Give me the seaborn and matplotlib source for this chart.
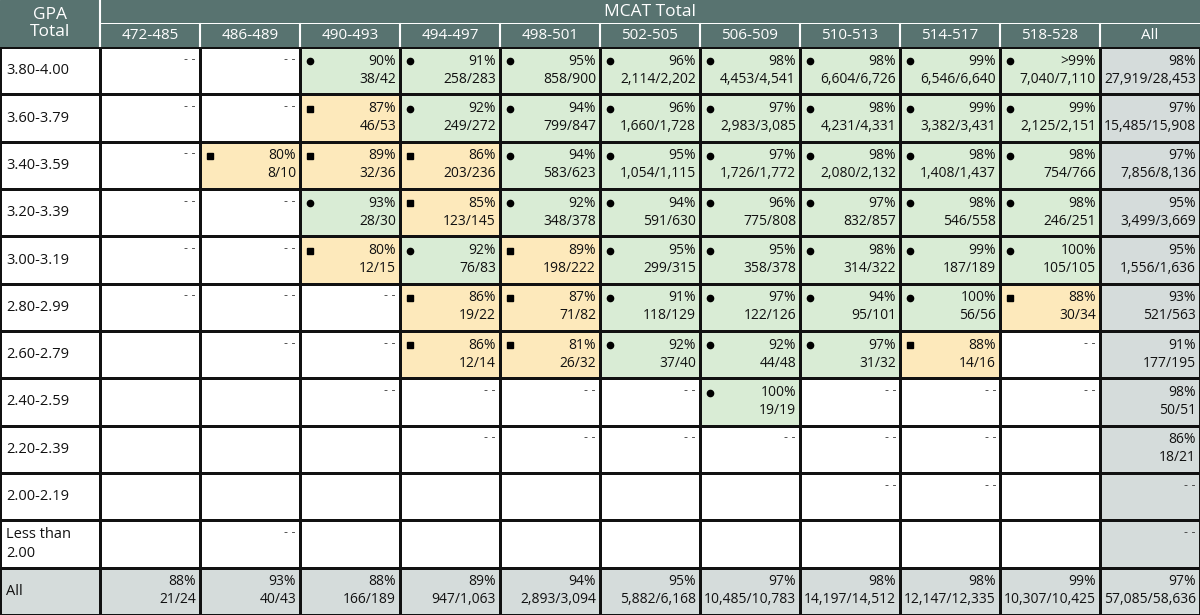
import matplotlib
matplotlib.use("Agg")
import matplotlib.pyplot as plt
from matplotlib.colors import ListedColormap
from matplotlib.patches import Rectangle
import seaborn as sns
import numpy as np
import pandas as pd

mcat_cols = ["472-485", "486-489", "490-493", "494-497", "498-501", "502-505",
             "506-509", "510-513", "514-517", "518-528", "All"]
gpa_rows = ["3.80-4.00", "3.60-3.79", "3.40-3.59", "3.20-3.39", "3.00-3.19",
            "2.80-2.99", "2.60-2.79", "2.40-2.59", "2.20-2.39", "2.00-2.19",
            "Less than\n2.00", "All"]

# "" empty, "--" suppressed, otherwise percentage
pct = [
    ["--", "--", "90%", "91%", "95%", "96%", "98%", "98%", "99%", ">99%", "98%"],
    ["--", "--", "87%", "92%", "94%", "96%", "97%", "98%", "99%", "99%", "97%"],
    ["--", "80%", "89%", "86%", "94%", "95%", "97%", "98%", "98%", "98%", "97%"],
    ["--", "--", "93%", "85%", "92%", "94%", "96%", "97%", "98%", "98%", "95%"],
    ["--", "--", "80%", "92%", "89%", "95%", "95%", "98%", "99%", "100%", "95%"],
    ["--", "--", "--", "86%", "87%", "91%", "97%", "94%", "100%", "88%", "93%"],
    ["", "--", "--", "86%", "81%", "92%", "92%", "97%", "88%", "--", "91%"],
    ["", "", "--", "--", "--", "--", "100%", "--", "--", "--", "98%"],
    ["", "", "", "--", "--", "--", "--", "--", "--", "", "86%"],
    ["", "", "", "", "", "", "", "--", "--", "", "--"],
    ["", "--", "", "", "", "", "", "", "", "", "--"],
    ["88%", "93%", "88%", "89%", "94%", "95%", "97%", "98%", "98%", "99%", "97%"],
]
counts = [
    ["", "", "38/42", "258/283", "858/900", "2,114/2,202", "4,453/4,541", "6,604/6,726", "6,546/6,640", "7,040/7,110", "27,919/28,453"],
    ["", "", "46/53", "249/272", "799/847", "1,660/1,728", "2,983/3,085", "4,231/4,331", "3,382/3,431", "2,125/2,151", "15,485/15,908"],
    ["", "8/10", "32/36", "203/236", "583/623", "1,054/1,115", "1,726/1,772", "2,080/2,132", "1,408/1,437", "754/766", "7,856/8,136"],
    ["", "", "28/30", "123/145", "348/378", "591/630", "775/808", "832/857", "546/558", "246/251", "3,499/3,669"],
    ["", "", "12/15", "76/83", "198/222", "299/315", "358/378", "314/322", "187/189", "105/105", "1,556/1,636"],
    ["", "", "", "19/22", "71/82", "118/129", "122/126", "95/101", "56/56", "30/34", "521/563"],
    ["", "", "", "12/14", "26/32", "37/40", "44/48", "31/32", "14/16", "", "177/195"],
    ["", "", "", "", "", "", "19/19", "", "", "", "50/51"],
    ["", "", "", "", "", "", "", "", "", "", "18/21"],
    ["", "", "", "", "", "", "", "", "", "", ""],
    ["", "", "", "", "", "", "", "", "", "", ""],
    ["21/24", "40/43", "166/189", "947/1,063", "2,893/3,094", "5,882/6,168", "10,485/10,783", "14,197/14,512", "12,147/12,335", "10,307/10,425", "57,085/58,636"],
]
# cell shading: w white, g green (circle), o orange (square)
shade = [
    "wwgggggggg",
    "wwoggggggg",
    "wooogggggg",
    "wwgogggggg",
    "wwogoggggg",
    "wwwooggggo",
    "wwwoogggow",
    "wwwwwwgwww",
    "wwwwwwwwww",
    "wwwwwwwwww",
    "wwwwwwwwww",
]

code = {"w": 0, "g": 1, "o": 2}
nR, nC = len(gpa_rows), len(mcat_cols) + 1
grid = np.zeros((nR, nC))
for r in range(nR):
    for c in range(nC):
        if r == nR - 1 or c == nC - 1:
            grid[r, c] = 3
        elif c == 0:
            grid[r, c] = 0
        else:
            grid[r, c] = code[shade[r][c - 1]]
df = pd.DataFrame(grid, index=gpa_rows, columns=["GPA"] + mcat_cols)

HEAD = "#587370"
cmap = ListedColormap(["#ffffff", "#d9ecd5", "#fde9bb", "#d5dcdb"])
plt.rcParams["font.family"] = ["Open Sans", "DejaVu Sans"]

fig = plt.figure(figsize=(12, 6.15), dpi=100)
ax = fig.add_axes([0, 0, 1, 568 / 615])
sns.heatmap(df, ax=ax, cmap=cmap, vmin=-0.5, vmax=3.5, cbar=False,
            linewidths=1, linecolor="#111111", xticklabels=False, yticklabels=False)
ax.set_xlabel(""); ax.set_ylabel("")

fs = 10
for r in range(nR):
    ax.text(0.06, r + 0.5, gpa_rows[r], ha="left", va="center", fontsize=10.5,
            color="#111", linespacing=1.3)
    for c in range(1, nC):
        p = pct[r][c - 1]; n = counts[r][c - 1]
        if p == "":
            continue
        if p == "--":
            ax.text(c + 0.96, r + 0.25, "- -", ha="right", va="center", fontsize=8,
                    color="#333", family="DejaVu Sans")
            continue
        ax.text(c + 0.96, r + 0.3, p, ha="right", va="center", fontsize=fs, color="#111")
        ax.text(c + 0.96, r + 0.68, n, ha="right", va="center", fontsize=fs, color="#111")
        if r < nR - 1 and c < nC - 1:
            s = shade[r][c - 1]
            if s == "g":
                ax.plot(c + 0.1, r + 0.3, "o", color="black", ms=4.5)
            elif s == "o":
                ax.plot(c + 0.1, r + 0.3, "s", color="black", ms=4.5)

# header
hax = fig.add_axes([0, 568 / 615, 1, 47 / 615])
hax.set_xlim(0, nC); hax.set_ylim(2, 0); hax.axis("off")
hax.add_patch(Rectangle((0, 0), nC, 2, color=HEAD))
hax.add_patch(Rectangle((1, 0.96), nC - 1, 0.08, color="white", lw=0))
for c in range(1, nC):
    hax.plot([c, c], [1 if c > 1 else 0, 2], color="white", lw=1.5)
    hax.text(c + 0.5, 1.5, mcat_cols[c - 1], ha="center", va="center",
             fontsize=11, color="white")
hax.text(0.5, 1.0, "GPA\nTotal", ha="center", va="center", fontsize=12.5,
         color="white", linespacing=1.05)
hax.text(1 + (nC - 1) / 2, 0.5, "MCAT Total", ha="center", va="center",
         fontsize=12.5, color="white")

fig.savefig("out.png", dpi=100)
